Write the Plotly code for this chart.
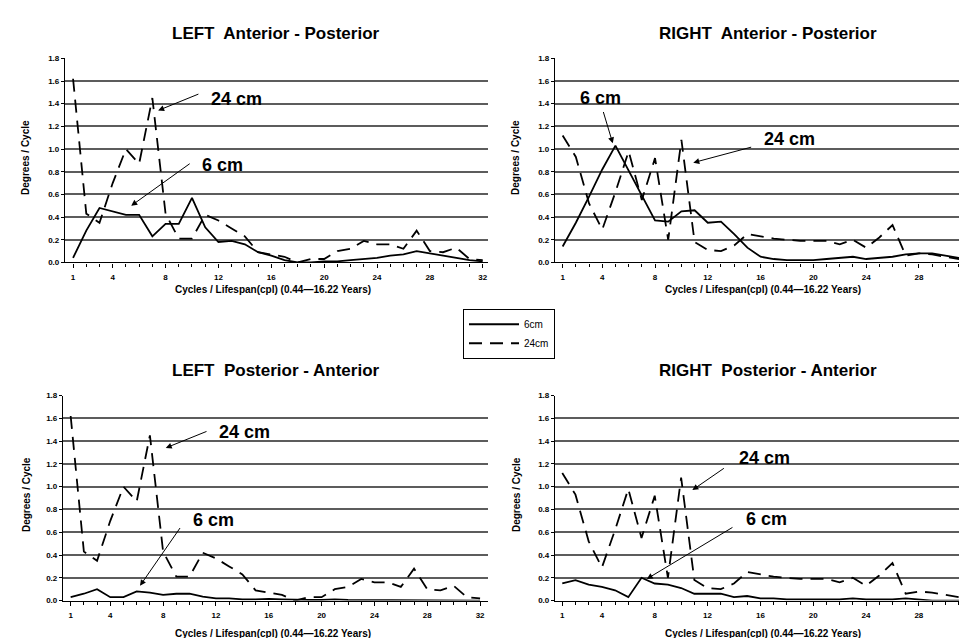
import plotly.graph_objects as go

# ---------------- data ----------------
cycles = list(range(1, 33))
x_tick_vals = [1, 4, 8, 12, 16, 20, 24, 28, 32]
x_tick_text = ["1", "4", "8", "12", "16", "20", "24", "28", "32"]
y_tick_vals = [0.0, 0.2, 0.4, 0.6, 0.8, 1.0, 1.2, 1.4, 1.6, 1.8]
y_tick_text = ["0.0", "0.2", "0.4", "0.6", "0.8", "1.0", "1.2", "1.4", "1.6", "1.8"]

left_ap_6cm = [0.04, 0.28, 0.48, 0.45, 0.42, 0.42, 0.23, 0.34, 0.34, 0.57, 0.31, 0.18,
               0.19, 0.16, 0.09, 0.06, 0.02, 0.0, 0.0, 0.01, 0.01, 0.02, 0.03, 0.04,
               0.06, 0.07, 0.10, 0.08, 0.06, 0.04, 0.02, 0.01]
left_ap_24cm = [1.62, 0.43, 0.35, 0.70, 1.00, 0.87, 1.45, 0.43, 0.21, 0.21, 0.42, 0.37,
                0.30, 0.23, 0.09, 0.07, 0.05, 0.0, 0.03, 0.03, 0.10, 0.12, 0.19, 0.16,
                0.16, 0.12, 0.28, 0.10, 0.09, 0.13, 0.03, 0.02]

right_ap_6cm = [0.14, 0.35, 0.58, 0.82, 1.03, 0.81, 0.60, 0.37, 0.36, 0.45, 0.46, 0.35,
                0.36, 0.25, 0.13, 0.05, 0.03, 0.02, 0.02, 0.02, 0.03, 0.04, 0.05, 0.03,
                0.04, 0.05, 0.07, 0.08, 0.08, 0.06, 0.04, 0.01]
right_ap_24cm = [1.12, 0.93, 0.52, 0.29, 0.62, 0.98, 0.55, 0.92, 0.20, 1.08, 0.18, 0.11,
                 0.10, 0.15, 0.25, 0.23, 0.21, 0.20, 0.19, 0.19, 0.19, 0.16, 0.20, 0.13,
                 0.22, 0.33, 0.06, 0.08, 0.07, 0.05, 0.03, 0.01]

left_pa_6cm = [0.03, 0.06, 0.10, 0.03, 0.03, 0.08, 0.07, 0.05, 0.06, 0.06, 0.035, 0.02,
               0.02, 0.01, 0.01, 0.015, 0.01, 0.005, 0.005, 0.005, 0.01, 0.005, 0.005, 0.005,
               0.005, 0.005, 0.005, 0.005, 0.005, 0.005, 0.0, 0.0]
left_pa_24cm = [1.62, 0.43, 0.35, 0.70, 1.00, 0.87, 1.45, 0.43, 0.21, 0.21, 0.42, 0.37,
                0.30, 0.23, 0.09, 0.07, 0.05, 0.0, 0.03, 0.03, 0.10, 0.12, 0.19, 0.16,
                0.16, 0.12, 0.28, 0.10, 0.09, 0.13, 0.03, 0.02]

right_pa_6cm = [0.15, 0.18, 0.14, 0.12, 0.09, 0.03, 0.20, 0.15, 0.14, 0.11, 0.06, 0.06,
                0.06, 0.03, 0.04, 0.02, 0.02, 0.01, 0.01, 0.01, 0.01, 0.01, 0.02, 0.01,
                0.01, 0.01, 0.02, 0.01, 0.0, 0.0, 0.0, 0.0]
right_pa_24cm = [1.12, 0.93, 0.52, 0.29, 0.62, 0.98, 0.55, 0.92, 0.20, 1.08, 0.18, 0.11,
                 0.10, 0.15, 0.25, 0.23, 0.21, 0.20, 0.19, 0.19, 0.19, 0.16, 0.20, 0.13,
                 0.22, 0.33, 0.06, 0.08, 0.07, 0.05, 0.03, 0.01]

panel_titles = ["LEFT\u00a0 Anterior - Posterior", "RIGHT\u00a0 Anterior - Posterior",
                "LEFT\u00a0 Posterior - Anterior", "RIGHT\u00a0 Posterior - Anterior"]
series_names = ["6cm", "24cm"]
y_title = "Degrees / Cycle"
x_title = "Cycles / Lifespan(cpl) (0.44\u201416.22 Years)"

# ---------------- layout geometry ----------------
W, H = 967, 638
FONT = "Liberation Sans"

def px_x(p):
    return p / W

def px_y(p):
    return 1 - p / H

panels = [
    # (data 6, data 24, x-domain px, y-domain px, x-range)
    (left_ap_6cm, left_ap_24cm, (57, 480), (47, 254), (0.39, 32.4)),
    (right_ap_6cm, right_ap_24cm, (547, 967), (47, 254), (0.42, 32.25)),
    (left_pa_6cm, left_pa_24cm, (55, 480), (389, 597), (0.42, 32.6)),
    (right_pa_6cm, right_pa_24cm, (547, 967), (389, 597), (0.45, 32.25)),
]

fig = go.Figure()
layout = dict(
    width=W, height=H, margin=dict(l=0, r=0, t=0, b=0),
    paper_bgcolor="white", plot_bgcolor="white",
    font=dict(family=FONT, color="black"),
    showlegend=True,
    legend=dict(x=px_x(455), y=px_y(301), xanchor="left", yanchor="top",
                bordercolor="black", borderwidth=1, bgcolor="white",
                font=dict(size=10, family=FONT), tracegroupgap=0,
                itemwidth=50),
)
annotations = []

for i, (d6, d24, xd, yd, xr) in enumerate(panels):
    n = i + 1
    xa = "x" if n == 1 else f"x{n}"
    ya = "y" if n == 1 else f"y{n}"
    fig.add_trace(go.Scatter(x=cycles, y=d6, mode="lines", name=series_names[0],
                             line=dict(color="black", width=1.8),
                             xaxis=xa, yaxis=ya, showlegend=(n == 1), legendrank=1))
    fig.add_trace(go.Scatter(x=cycles, y=d24, mode="lines", name=series_names[1],
                             line=dict(color="black", width=1.8, dash="13px,8px"),
                             xaxis=xa, yaxis=ya, showlegend=(n == 1), legendrank=2))
    xkey = "xaxis" if n == 1 else f"xaxis{n}"
    ykey = "yaxis" if n == 1 else f"yaxis{n}"
    layout[xkey] = dict(
        domain=[px_x(xd[0]), px_x(xd[1])], anchor=ya, range=list(xr),
        tickmode="array", tickvals=x_tick_vals,
        ticktext=[f"<b>{t}</b>" for t in x_tick_text],
        tickfont=dict(size=8, family=FONT, color="black"),
        ticks="outside", ticklen=4, tickcolor="black", ticklabelstandoff=3,
        minor=dict(tickvals=cycles, ticks="outside", ticklen=3, tickcolor="black"),
        showline=True, linecolor="black", linewidth=1.2,
        showgrid=False, zeroline=False, fixedrange=True,
    )
    layout[ykey] = dict(
        domain=[px_y(yd[1]), px_y(yd[0])], anchor=xa, range=[0, 1.8],
        tickmode="array", tickvals=y_tick_vals,
        ticktext=[f"<b>{t}</b>" for t in y_tick_text],
        tickfont=dict(size=8, family=FONT, color="black"),
        ticks="outside", ticklen=3, tickcolor="black",
        showline=True, linecolor="black", linewidth=1.2,
        showgrid=True, gridcolor="#5c5c5c", gridwidth=1.6,
        zeroline=False, fixedrange=True,
    )
    ty = 22 if n in (1, 2) else 364
    annotations.append(dict(text=f"<b>{panel_titles[i]}</b>", x=px_x(268 if n in (1, 3) else 760),
                            y=px_y(ty), xref="paper", yref="paper", showarrow=False,
                            font=dict(size=17, family=FONT), xanchor="center", yanchor="middle"))
    annotations.append(dict(text=f"<b>{y_title}</b>", textangle=-90,
                            x=px_x(18 if n in (1, 3) else 508),
                            y=px_y(148 if n in (1, 2) else 490),
                            xref="paper", yref="paper", showarrow=False,
                            font=dict(size=10, family=FONT), xanchor="center", yanchor="middle"))
    annotations.append(dict(text=f"<b>{x_title}</b>",
                            x=px_x(265 if n in (1, 3) else 755),
                            y=px_y(281 if n in (1, 2) else 630),
                            xref="paper", yref="paper", showarrow=False,
                            font=dict(size=10, family=FONT), xanchor="center", yanchor="middle"))

# callout labels (text position, arrow tail, arrow head) in data coordinates
callouts = [
    (1, "24 cm", (13.35, 1.44), (10.6, 1.49), (7.44, 1.34)),
    (1, "6 cm", (12.3, 0.86), (9.94, 0.88), (5.4, 0.50)),
    (2, "6 cm", (3.83, 1.45), (4.05, 1.34), (4.8, 1.05)),
    (2, "24 cm", (18.2, 1.09), (15.4, 1.02), (10.9, 0.88)),
    (3, "24 cm", (14.2, 1.48), (11.4, 1.49), (8.2, 1.34)),
    (3, "6 cm", (11.8, 0.71), (9.36, 0.65), (6.25, 0.13)),
    (4, "24 cm", (16.3, 1.25), (13.35, 1.17), (10.85, 0.97)),
    (4, "6 cm", (16.5, 0.72), (14.0, 0.65), (7.4, 0.19)),
]
for n, txt, tpos, tail, head in callouts:
    xa = "x" if n == 1 else f"x{n}"
    ya = "y" if n == 1 else f"y{n}"
    annotations.append(dict(text=f"<b>{txt}</b>", x=tpos[0], y=tpos[1], xref=xa, yref=ya,
                            showarrow=False, font=dict(size=18, family=FONT),
                            xanchor="center", yanchor="middle"))
    annotations.append(dict(text="", x=head[0], y=head[1], xref=xa, yref=ya,
                            ax=tail[0], ay=tail[1], axref=xa, ayref=ya,
                            showarrow=True, arrowhead=2, arrowsize=1.2, arrowwidth=1,
                            arrowcolor="black"))

layout["annotations"] = annotations
fig.update_layout(**layout)
fig.write_html("out.html")
